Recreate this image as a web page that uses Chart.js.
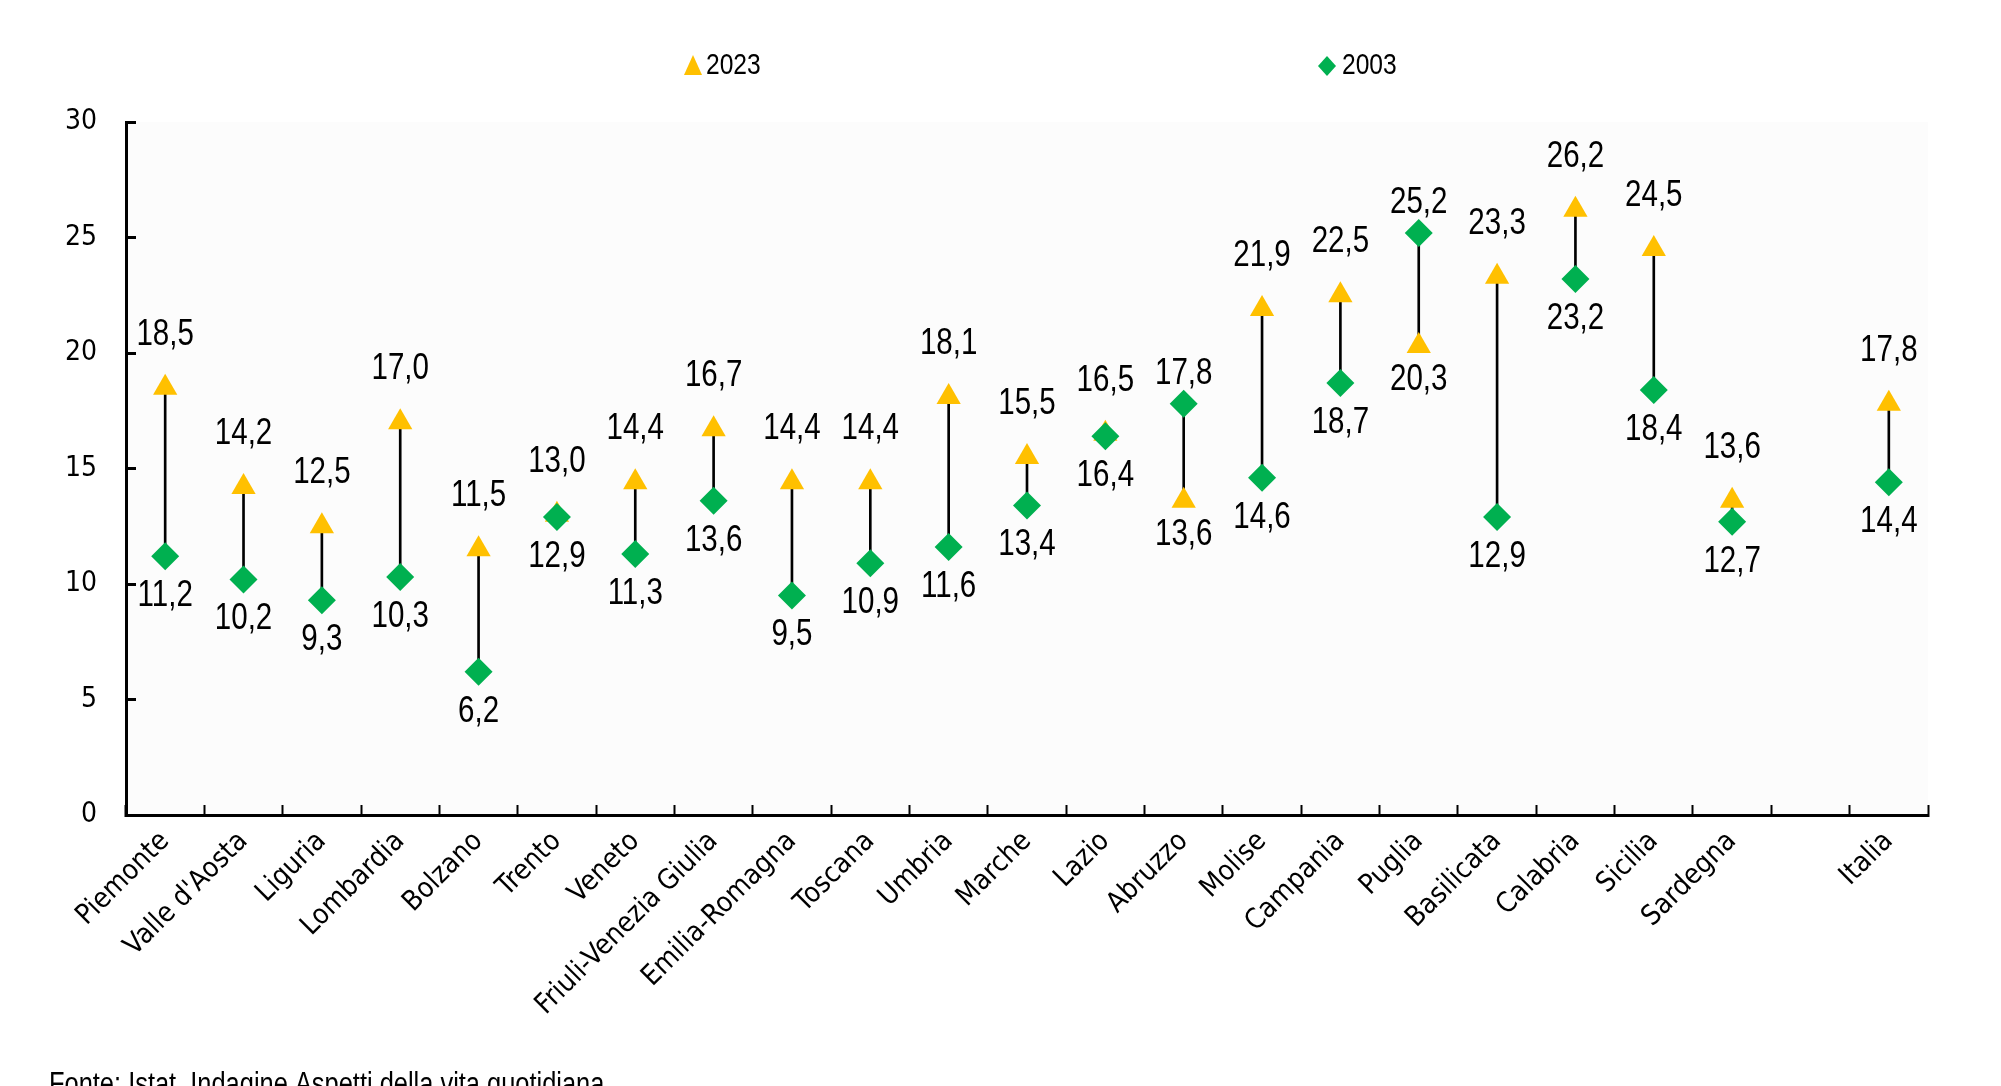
<!DOCTYPE html>
<html lang="it">
<head>
<meta charset="utf-8">
<title>2003 - 2023</title>
<script src="https://cdn.jsdelivr.net/npm/chart.js@4.4.1/dist/chart.umd.min.js"></script>
<style>
  html, body { margin: 0; padding: 0; background: #ffffff; }
  #wrap { width: 2001px; height: 1086px; }
</style>
</head>
<body>
<div id="wrap"><canvas id="chart" width="2001" height="1086"></canvas></div>
<script>
// dati
const regioni = ['Piemonte', "Valle d'Aosta", 'Liguria', 'Lombardia', 'Bolzano', 'Trento', 'Veneto',
  'Friuli-Venezia Giulia', 'Emilia-Romagna', 'Toscana', 'Umbria', 'Marche', 'Lazio', 'Abruzzo',
  'Molise', 'Campania', 'Puglia', 'Basilicata', 'Calabria', 'Sicilia', 'Sardegna', '', 'Italia'];
const valori2023 = [18.5, 14.2, 12.5, 17.0, 11.5, 13.0, 14.4, 16.7, 14.4, 14.4, 18.1, 15.5, 16.5, 13.6,
  21.9, 22.5, 20.3, 23.3, 26.2, 24.5, 13.6, null, 17.8];
const valori2003 = [11.2, 10.2, 9.3, 10.3, 6.2, 12.9, 11.3, 13.6, 9.5, 10.9, 11.6, 13.4, 16.4, 17.8,
  14.6, 18.7, 25.2, 12.9, 23.2, 18.4, 12.7, null, 14.4];
const yTicks = [0, 5, 10, 15, 20, 25, 30];
const fonte = 'Fonte: Istat, Indagine Aspetti della vita quotidiana';

const FONT = "'DejaVu Sans Condensed', 'Liberation Sans', sans-serif";
// testo "narrow": Liberation Sans compresso in orizzontale
const NARROW = "'Liberation Sans', Arial, sans-serif";
const GIALLO = '#FFC000';
const VERDE = '#00B050';

// segmento tra i due anni
const intervalli = valori2023.map((v, i) => {
  const w = valori2003[i];
  if (v === null || w === null) return null;
  return [Math.min(v, w), Math.max(v, w)];
});

function fmt(v) {
  return v.toFixed(1).replace('.', ',');
}

function testoStretto(ctx, s, x, y, align, size) {
  ctx.save();
  ctx.translate(x, y);
  ctx.scale(0.82, 1);
  ctx.font = size + 'px ' + NARROW;
  ctx.textAlign = align;
  ctx.fillText(s, 0, 0);
  ctx.restore();
}

// sfondo area del grafico
const sfondo = {
  id: 'sfondo',
  beforeDraw(chart) {
    const a = chart.chartArea;
    const ctx = chart.ctx;
    ctx.save();
    ctx.fillStyle = '#FCFCFC';
    ctx.fillRect(a.left, a.top, a.right - a.left, a.bottom - a.top);
    ctx.restore();
  }
};

// etichette dei valori, sopra il piu alto e sotto il piu basso
const etichette = {
  id: 'etichette',
  afterDatasetsDraw(chart) {
    const ctx = chart.ctx;
    const tri = chart.getDatasetMeta(1).data;
    const dia = chart.getDatasetMeta(2).data;
    ctx.save();
    ctx.fillStyle = '#000000';
    ctx.textBaseline = 'middle';
    valori2023.forEach((v, i) => {
      const w = valori2003[i];
      if (v === null || w === null) return;
      const pt = tri[i], pd = dia[i];
      if (v >= w) {
        testoStretto(ctx, fmt(v), pt.x, pt.y - 53, 'center', 36);
        testoStretto(ctx, fmt(w), pd.x, pd.y + 40, 'center', 36);
      } else {
        testoStretto(ctx, fmt(w), pd.x, pd.y - 30, 'center', 36);
        testoStretto(ctx, fmt(v), pt.x, pt.y + 34, 'center', 36);
      }
    });
    ctx.restore();
  }
};

// legenda in alto e nota sulla fonte
const legenda = {
  id: 'legenda',
  afterDraw(chart) {
    const ctx = chart.ctx;
    ctx.save();
    const y = 66;
    // triangolo
    ctx.fillStyle = GIALLO;
    ctx.beginPath();
    ctx.moveTo(693, y - 11);
    ctx.lineTo(702, y + 9);
    ctx.lineTo(684, y + 9);
    ctx.closePath();
    ctx.fill();
    // rombo
    ctx.fillStyle = VERDE;
    ctx.beginPath();
    ctx.moveTo(1327, y - 10);
    ctx.lineTo(1336, y);
    ctx.lineTo(1327, y + 10);
    ctx.lineTo(1318, y);
    ctx.closePath();
    ctx.fill();

    ctx.fillStyle = '#000000';
    ctx.textBaseline = 'middle';
    testoStretto(ctx, chart.data.datasets[1].label, 706, y, 'left', 30);
    testoStretto(ctx, chart.data.datasets[2].label, 1342, y, 'left', 30);

    ctx.textBaseline = 'alphabetic';
    testoStretto(ctx, fonte, 49, 1094, 'left', 31);
    ctx.restore();
  }
};

new Chart(document.getElementById('chart'), {
  data: {
    labels: regioni,
    datasets: [
      {
        type: 'bar',
        label: 'intervallo',
        data: intervalli,
        backgroundColor: '#000000',
        barThickness: 2,
        order: 3
      },
      {
        type: 'line',
        label: '2023',
        data: valori2023,
        showLine: false,
        pointStyle: 'triangle',
        pointRadius: 14,
        pointBackgroundColor: GIALLO,
        pointBorderWidth: 0,
        order: 2
      },
      {
        type: 'line',
        label: '2003',
        data: valori2003,
        showLine: false,
        pointStyle: 'rectRot',
        pointRadius: 14,
        pointBackgroundColor: VERDE,
        pointBorderWidth: 0,
        order: 1
      }
    ]
  },
  options: {
    responsive: false,
    devicePixelRatio: 1,
    animation: false,
    events: [],
    layout: { padding: { top: 122, right: 73, bottom: 0, left: 0 } },
    plugins: {
      legend: { display: false },
      tooltip: { enabled: false }
    },
    scales: {
      x: {
        type: 'category',
        offset: true,
        grid: {
          offset: true,
          drawOnChartArea: false,
          drawTicks: true,
          tickLength: -10,
          tickWidth: 2,
          tickColor: '#000000'
        },
        border: { display: true, color: '#000000', width: 3 },
        ticks: {
          autoSkip: false,
          maxRotation: 45,
          minRotation: 45,
          padding: 20,
          color: '#000000',
          font: { family: FONT, size: 28 }
        },
        afterFit(scale) { scale.height = 1086 - 815; }
      },
      y: {
        min: 0,
        max: 30,
        afterBuildTicks(scale) { scale.ticks = yTicks.map(v => ({ value: v })); },
        grid: {
          drawOnChartArea: false,
          drawTicks: true,
          tickLength: -10,
          tickWidth: 3,
          tickColor: '#000000'
        },
        border: { display: true, color: '#000000', width: 3 },
        ticks: {
          padding: 39,
          color: '#000000',
          font: { family: FONT, size: 28 }
        },
        afterFit(scale) { scale.width = 126; }
      }
    }
  },
  plugins: [sfondo, etichette, legenda]
});
</script>
</body>
</html>
